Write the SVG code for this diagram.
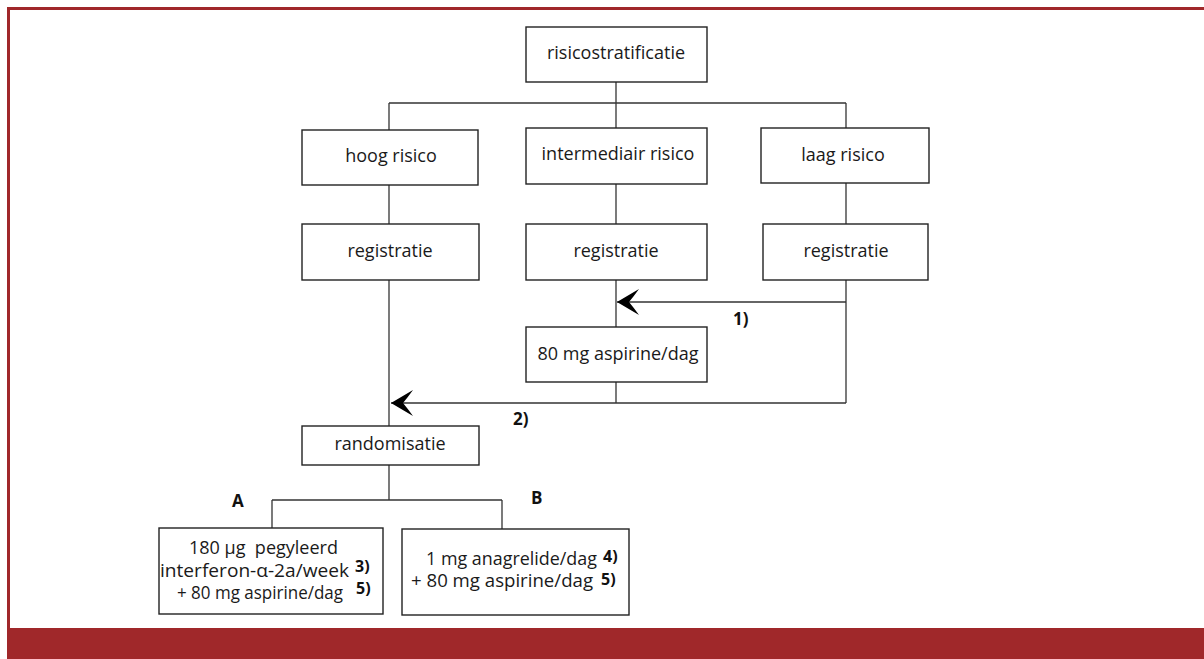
<svg xmlns="http://www.w3.org/2000/svg" width="1204" height="659" viewBox="0 0 1204 659">
<style>
  .box { fill: #ffffff; stroke: #222222; stroke-width: 1.4; }
  .t { font-family: "Open Sans", "Liberation Sans", sans-serif; font-size: 18px; fill: #1a1a1a; text-anchor: middle; }
  .tl { font-family: "Open Sans", "Liberation Sans", sans-serif; font-size: 18px; fill: #1a1a1a; }
  .b { font-family: "Open Sans", "Liberation Sans", sans-serif; font-weight: bold; font-size: 17px; fill: #111111; }
  .bs { font-family: "Open Sans", "Liberation Sans", sans-serif; font-weight: bold; font-size: 16px; fill: #111111; }
  .c { fill: none; stroke: #333333; stroke-width: 1.3; }
</style>
<defs>
  <marker id="arr" markerUnits="userSpaceOnUse" viewBox="0 0 22 26" markerWidth="22" markerHeight="26" refX="22" refY="13" orient="auto">
    <path d="M0,0 L22,13 L0,26 Q5,19 10,13 Q5,7 0,0 Z" fill="#000000"/>
  </marker>
</defs>
<rect width="1204" height="659" fill="#ffffff"/>
<!-- frame -->
<rect x="8.5" y="8.5" width="1210" height="640" fill="none" stroke="#a0282a" stroke-width="3"/>
<rect x="7" y="628" width="1197" height="31" fill="#a0282a"/>

<g id="connectors">
  <path class="c" d="M616,82 V128"/>
  <path class="c" d="M389,103 H846"/>
  <path class="c" d="M389,103 V130"/>
  <path class="c" d="M846,103 V128"/>
  <path class="c" d="M389,185 V224"/>
  <path class="c" d="M616,184 V224"/>
  <path class="c" d="M846,183 V224"/>
  <path class="c" d="M389,280 V426"/>
  <path class="c" d="M616,280 V327"/>
  <path class="c" d="M846,280 V403"/>
  <path class="c" d="M846,302 H617" marker-end="url(#arr)"/>
  <path class="c" d="M616,382 V403"/>
  <path class="c" d="M846,403 H391" marker-end="url(#arr)"/>
  <path class="c" d="M389,465 V500"/>
  <path class="c" d="M272,500 H502"/>
  <path class="c" d="M272,500 V528"/>
  <path class="c" d="M502,500 V529"/>
</g>

<g id="n-risico">
  <rect class="box" x="526" y="27" width="181" height="55"/>
  <text class="t" x="616" y="59">risicostratificatie</text>
</g>
<g id="n-hoog">
  <rect class="box" x="302" y="130" width="176" height="55"/>
  <text class="t" x="391" y="162">hoog risico</text>
</g>
<g id="n-inter">
  <rect class="box" x="526" y="128" width="181" height="56"/>
  <text class="t" x="618" y="160">intermediair risico</text>
</g>
<g id="n-laag">
  <rect class="box" x="761" y="128" width="168" height="55"/>
  <text class="t" x="843" y="161">laag risico</text>
</g>
<g id="n-reg1">
  <rect class="box" x="302" y="224" width="177" height="56"/>
  <text class="t" x="390" y="257">registratie</text>
</g>
<g id="n-reg2">
  <rect class="box" x="526" y="224" width="181" height="56"/>
  <text class="t" x="616" y="257">registratie</text>
</g>
<g id="n-reg3">
  <rect class="box" x="763" y="224" width="165" height="56"/>
  <text class="t" x="846" y="257">registratie</text>
</g>
<g id="n-asp">
  <rect class="box" x="526" y="327" width="181" height="55"/>
  <text class="t" x="618" y="360">80 mg aspirine/dag</text>
</g>
<g id="n-rand">
  <rect class="box" x="302" y="426" width="177" height="39"/>
  <text class="t" x="390" y="450">randomisatie</text>
</g>
<g id="n-A">
  <rect class="box" x="159" y="528" width="224" height="86"/>
  <text class="tl" x="189" y="554" xml:space="preserve" textLength="149" lengthAdjust="spacingAndGlyphs">180 µg  pegyleerd</text>
  <text class="tl" x="160" y="577" textLength="189" lengthAdjust="spacingAndGlyphs">interferon-α-2a/week</text>
  <text class="tl" x="177" y="599" textLength="166" lengthAdjust="spacingAndGlyphs">+ 80 mg aspirine/dag</text>
  <text class="bs" x="355" y="572">3)</text>
  <text class="bs" x="356" y="594">5)</text>
</g>
<g id="n-B">
  <rect class="box" x="402" y="529" width="227" height="86"/>
  <text class="tl" x="426" y="565" textLength="171" lengthAdjust="spacingAndGlyphs">1 mg anagrelide/dag</text>
  <text class="tl" x="411" y="587" textLength="182" lengthAdjust="spacingAndGlyphs">+ 80 mg aspirine/dag</text>
  <text class="bs" x="603" y="562">4)</text>
  <text class="bs" x="601" y="585">5)</text>
</g>
<g id="labels">
  <text class="b" x="733" y="325">1)</text>
  <text class="b" x="513" y="425">2)</text>
  <text class="b" x="232" y="507">A</text>
  <text class="b" x="531" y="504">B</text>
</g>
</svg>
